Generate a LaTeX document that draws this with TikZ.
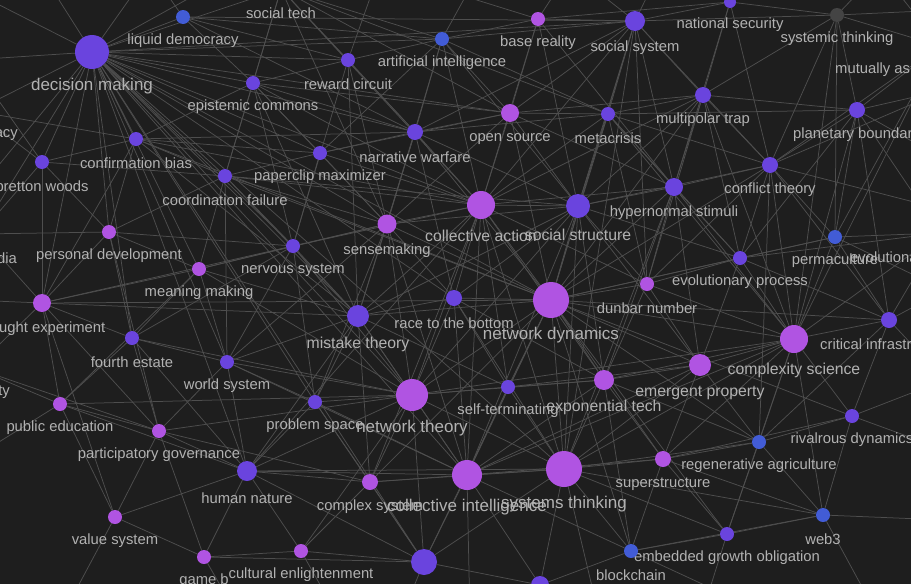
\documentclass[tikz,border=0pt]{standalone}
\usepackage{fontspec}
\setmainfont{Liberation Sans}
\usetikzlibrary{calc}
\definecolor{bgc}{RGB}{30,30,30}
\definecolor{cV}{RGB}{106,68,222}
\definecolor{cM}{RGB}{176,84,226}
\definecolor{cB}{RGB}{66,92,214}
\definecolor{cG}{RGB}{68,68,68}
\definecolor{edgec}{RGB}{78,78,78}
\definecolor{txtc}{RGB}{178,178,178}
\pgfdeclarelayer{bglayer}
\pgfdeclarelayer{edgelayer}
\pgfsetlayers{bglayer,edgelayer,main}
\tikzset{
  gnd/.style={circle,inner sep=0pt,draw=none},
  lbl/.style={text=txtc,inner sep=0pt,yshift=-2pt,font=\fontsize{14.8}{16}\selectfont},
  lblm/.style={text=txtc,inner sep=0pt,yshift=-2pt,font=\fontsize{15.8}{17}\selectfont},
  lblb/.style={text=txtc,inner sep=0pt,yshift=-2.5pt,font=\fontsize{17}{19}\selectfont},
  edge/.style={draw=edgec,line width=0.75pt}
}
\newcommand\GN[7]{%
  \node[gnd,fill=#5,minimum size=#4*2pt] (#1) at (#2,#3) {};
  \node[#7] (#1-l) at (#2,#3+#4+15) {#6};}
\begin{document}
\begin{tikzpicture}[x=1pt,y=-1pt]
\useasboundingbox (0,0) rectangle (911,584);
\begin{pgfonlayer}{bglayer}
\fill[bgc] (0,0) rectangle (911,584);
\end{pgfonlayer}
% nodes
\GN{dm}{92}{52}{17}{cV}{decision making}{lblb}
\GN{lqd}{183}{17}{7}{cB}{liquid democracy}{lbl}
\GN{stech}{281}{-11}{7}{cV}{social tech}{lbl}
\GN{rc}{348}{60}{7}{cV}{reward circuit}{lbl}
\GN{ai}{442}{39}{7}{cB}{artificial intelligence}{lbl}
\GN{br}{538}{19}{7}{cM}{base reality}{lbl}
\GN{ssys}{635}{21}{10}{cV}{social system}{lbl}
\GN{natsec}{730}{2}{6}{cV}{national security}{lbl}
\GN{syst}{837}{15}{7}{cG}{systemic thinking}{lbl}
\GN{ecm}{253}{83}{7}{cV}{epistemic commons}{lbl}
\GN{cb}{136}{139}{7}{cV}{confirmation bias}{lbl}
\GN{bw}{42}{162}{7}{cV}{bretton woods}{lbl}
\GN{pcm}{320}{153}{7}{cV}{paperclip maximizer}{lbl}
\GN{cf}{225}{176}{7}{cV}{coordination failure}{lbl}
\GN{nw}{415}{132}{8}{cV}{narrative warfare}{lbl}
\GN{os}{510}{113}{9}{cM}{open source}{lbl}
\GN{mc}{608}{114}{7}{cV}{metacrisis}{lbl}
\GN{mpt}{703}{95}{8}{cV}{multipolar trap}{lbl}
\node[gnd,fill=cV,minimum size=16pt] (pb) at (857,110) {};
\node[lbl,anchor=west] (pb-l) at (793,133) {planetary boundar};
\GN{ct}{770}{165}{8}{cV}{conflict theory}{lbl}
\GN{hs}{674}{187}{9}{cV}{hypernormal stimuli}{lbl}
\GN{sstr}{578}{206}{12}{cV}{social structure}{lblm}
\GN{ca}{481}{205}{14}{cM}{collective action}{lblm}
\GN{sm}{387}{224}{9.5}{cM}{sensemaking}{lbl}
\GN{ns}{293}{246}{7}{cV}{nervous system}{lbl}
\GN{pd}{109}{232}{7}{cM}{personal development}{lbl}
\GN{mm}{199}{269}{7}{cM}{meaning making}{lbl}
\GN{te}{42}{303}{9}{cM}{thought experiment}{lbl}
\GN{fe}{132}{338}{7}{cV}{fourth estate}{lbl}
\GN{ws}{227}{362}{7}{cV}{world system}{lbl}
\GN{rtb}{454}{298}{8}{cV}{race to the bottom}{lbl}
\GN{mt}{358}{316}{11}{cV}{mistake theory}{lblm}
\GN{nd}{551}{300}{18}{cM}{network dynamics}{lblb}
\GN{dn}{647}{284}{7}{cM}{dunbar number}{lbl}
\GN{ep}{740}{258}{7}{cV}{evolutionary process}{lbl}
\GN{perm}{835}{237}{7}{cB}{permaculture}{lbl}
\node[gnd,fill=cV,minimum size=16pt] (cinf) at (889,320) {};
\node[lbl,anchor=west] (cinf-l) at (820,342) {critical infrastr};
\GN{cs}{794}{339}{14}{cM}{complexity science}{lblm}
\GN{emp}{700}{365}{11}{cM}{emergent property}{lblm}
\GN{et}{604}{380}{10}{cM}{exponential tech}{lblm}
\GN{stm}{508}{387}{7}{cV}{self-terminating}{lbl}
\GN{nt}{412}{395}{16}{cM}{network theory}{lblb}
\GN{ps}{315}{402}{7}{cV}{problem space}{lbl}
\GN{pe}{60}{404}{7}{cM}{public education}{lbl}
\GN{pg}{159}{431}{7}{cM}{participatory governance}{lbl}
\GN{hn}{247}{471}{10}{cV}{human nature}{lbl}
\GN{vs}{115}{517}{7}{cM}{value system}{lbl}
\GN{gb}{204}{557}{7}{cM}{game b}{lbl}
\GN{ce}{301}{551}{7}{cM}{cultural enlightenment}{lbl}
\GN{cpx}{370}{482}{8}{cM}{complex system}{lbl}
\GN{cint}{467}{475}{15}{cM}{collective intelligence}{lblb}
\GN{sth}{564}{469}{18}{cM}{systems thinking}{lblb}
\GN{sup}{663}{459}{8}{cM}{superstructure}{lbl}
\GN{ra}{759}{442}{7}{cB}{regenerative agriculture}{lbl}
\GN{rd}{852}{416}{7}{cV}{rivalrous dynamics}{lbl}
\GN{web3}{823}{515}{7}{cB}{web3}{lbl}
\GN{ego}{727}{534}{7}{cV}{embedded growth obligation}{lbl}
\GN{bc}{631}{551}{7}{cB}{blockchain}{lbl}
\node[gnd,fill=cV,minimum size=26pt] (bigv) at (424,562) {};
\node[gnd,fill=cV,minimum size=18pt] (bv2) at (540,585) {};
% nodes outside the frame and their visible label parts
\node[gnd,fill=cV,minimum size=14pt] (demo) at (-25,111) {};
\node[lbl,anchor=east] (demo-l) at (18,133) {acy};
\node[gnd,fill=cV,minimum size=14pt] (media) at (-20,234) {};
\node[lbl,anchor=east] (media-l) at (17,256) {dia};
\node[gnd,fill=cV,minimum size=14pt] (tyn) at (-25,368) {};
\node[lbl,anchor=east] (tyn-l) at (10,390) {ty};
\node[gnd,fill=cV,minimum size=14pt] (evo) at (940,233) {};
\node[lbl,anchor=west] (evo-l) at (850,255) {evolutiona};
\node[gnd,fill=cV,minimum size=14pt] (mad) at (940,46) {};
\node[lbl,anchor=west] (mad-l) at (835,68) {mutually as};
% off-frame ends
\coordinate (otl) at (-30,-10);
\coordinate (ot1) at (40,-30);
\coordinate (ot2) at (150,-30);
\coordinate (ot3) at (240,-30);
\coordinate (ot4) at (380,-30);
\coordinate (ot5) at (480,-30);
\coordinate (ot6) at (570,-30);
\coordinate (ot7) at (660,-30);
\coordinate (ot8) at (780,-30);
\coordinate (ot9) at (880,-30);
\coordinate (ol1) at (-30,60);
\coordinate (ol2) at (-30,200);
\coordinate (ol3) at (-30,300);
\coordinate (ol4) at (-30,460);
\coordinate (or1) at (945,10);
\coordinate (or2) at (945,90);
\coordinate (or3) at (945,160);
\coordinate (or4) at (945,210);
\coordinate (or5) at (945,290);
\coordinate (or6) at (945,380);
\coordinate (or7) at (945,450);
\coordinate (or8) at (945,520);
\coordinate (ob1) at (60,620);
\coordinate (ob2) at (240,620);
\coordinate (ob3) at (340,620);
\coordinate (ob4) at (470,620);
\coordinate (ob5) at (600,620);
\coordinate (ob6) at (700,620);
\coordinate (ob7) at (780,620);
\coordinate (ob8) at (400,620);
\coordinate (ob9) at (880,620);
\begin{pgfonlayer}{edgelayer}
\foreach \a/\b in {
dm/lqd, dm/stech, dm/rc, dm/ai, dm/ecm, dm/cb, dm/bw, dm/cf, dm/pcm, dm/nw, dm/sm, dm/ns, dm/pd, dm/mm, dm/te, dm/fe, dm/ws, dm/mt, dm/rtb, dm/ca, dm/nt, dm/ps, dm/cint, dm/bigv, dm/os, dm/ssys, dm/demo, dm/media, dm/otl, dm/ot1, dm/ot2, dm/ot3, dm/ol1, dm/nd, dm/hn, dm/sth, dm/ol2,
lqd/ai, lqd/ecm, lqd/ssys, lqd/nw, lqd/ot2, lqd/rc,
stech/ecm, stech/rc, stech/ai, stech/os, stech/nw, stech/sm, stech/ca, stech/cf, stech/mc,
rc/ecm, rc/nw, rc/ns, rc/ai, rc/sm, rc/mt, rc/ot4,
ai/os, ai/br, ai/mc, ai/ca, ai/nw, ai/sstr, ai/ssys, ai/sm, ai/ot5,
br/os, br/ssys, br/ca, br/sstr, br/hs, br/ot6, br/natsec, br/ot4,
ssys/mc, ssys/mpt, ssys/sstr, ssys/hs, ssys/os, ssys/ca, ssys/nd, ssys/natsec, ssys/ot7, ssys/ot6, ssys/syst, ssys/ct, ssys/dn, ssys/sth, ssys/nw,
natsec/syst, natsec/mpt, natsec/hs, natsec/ot8, natsec/ct,
syst/pb, syst/mad, syst/ct, syst/or1, syst/ot9, syst/perm, syst/mpt, syst/cs,
mad/pb, mad/ct, mad/cs, mad/perm, mad/ot9,
ecm/cb, ecm/cf, ecm/pcm, ecm/nw, ecm/ns, ecm/ca, ecm/sm, ecm/os, ecm/mt,
cb/bw, cb/cf, cb/pd, cb/pcm, cb/nw, cb/ca, cb/te, cb/nd, cb/mt, cb/demo,
bw/demo, bw/pd, bw/te, bw/ol1, bw/media, bw/cf,
pcm/cf, pcm/nw, pcm/sm, pcm/ca, pcm/ns, pcm/os, pcm/ai,
cf/ns, cf/mm, cf/sm, cf/ca, cf/mt, cf/pd, cf/ws, cf/sstr, cf/nd,
nw/os, nw/sm, nw/ca, nw/sstr, nw/mc, nw/rtb, nw/mt, nw/nd,
os/mc, os/ca, os/sstr, os/nd, os/hs, os/sm, os/mpt,
mc/mpt, mc/sstr, mc/hs, mc/ca, mc/nd, mc/ct, mc/dn, mc/pb, mc/cs, mc/ep,
mpt/ct, mpt/hs, mpt/pb, mpt/sstr, mpt/nd, mpt/dn, mpt/cs, mpt/ep, mpt/ca,
pb/ct, pb/perm, pb/cinf, pb/cs, pb/ep, pb/or2, pb/or3, pb/evo,
ct/hs, ct/ep, ct/perm, ct/cs, ct/sstr, ct/dn, ct/nd, ct/ra, ct/or4, ct/cinf, ct/or2,
hs/sstr, hs/ca, hs/nd, hs/dn, hs/ep, hs/et, hs/emp, hs/cs, hs/sth,
sstr/ca, sstr/nd, sstr/dn, sstr/rtb, sstr/sm, sstr/et, sstr/emp, sstr/sth, sstr/cint, sstr/nt, sstr/ep, sstr/mt,
ca/sm, ca/nd, ca/rtb, ca/mt, ca/nt, ca/cint, ca/sth, ca/et, ca/dn, ca/stm, ca/cpx, ca/ns, ca/hn,
sm/ns, sm/mt, sm/rtb, sm/nd, sm/nt, sm/cint, sm/mm, sm/ps, sm/ws,
ns/mm, ns/mt, ns/ws, ns/nt, ns/pd, ns/te, ns/fe, ns/ps,
pd/mm, pd/te, pd/fe, pd/media, pd/pg,
mm/te, mm/fe, mm/ws, mm/mt, mm/nt, mm/pe,
te/fe, te/pe, te/media, te/tyn, te/vs, te/pg, te/nd, te/mt, te/ol3,
fe/ws, fe/pe, fe/pg, fe/hn, fe/nt,
ws/ps, ws/hn, ws/nt, ws/mt, ws/cint, ws/pg,
rtb/mt, rtb/nd, rtb/nt, rtb/stm, rtb/et, rtb/cint, rtb/sth,
mt/nt, mt/nd, mt/ps, mt/cpx, mt/cint, mt/hn, mt/stm,
nd/dn, nd/ep, nd/emp, nd/et, nd/stm, nd/nt, nd/cint, nd/sth, nd/cs, nd/sup, nd/ra, nd/cinf, nd/perm, nd/rd, nd/bc, nd/ego, nd/bigv, nd/cpx,
dn/ep, dn/emp, dn/et, dn/cs,
ep/perm, ep/cs, ep/emp, ep/cinf, ep/evo,
perm/evo, perm/cinf, perm/cs, perm/or5,
evo/cinf, evo/cs, evo/or4,
cinf/cs, cinf/rd, cinf/ra, cinf/or6, cinf/or5,
cs/emp, cs/et, cs/sth, cs/sup, cs/ra, cs/rd, cs/web3, cs/cint, cs/nt, cs/ego,
emp/et, emp/sth, emp/sup, emp/ra, emp/cint, emp/stm,
et/stm, et/sth, et/sup, et/cint, et/nt, et/ra, et/bc,
stm/nt, stm/cint, stm/sth,
nt/ps, nt/cpx, nt/cint, nt/sth, nt/hn, nt/bigv, nt/ce, nt/pg, nt/pe,
ps/cpx, ps/hn, ps/cint, ps/bigv,
pe/pg, pe/vs, pe/hn, pe/tyn, pe/ol4,
pg/hn, pg/vs, pg/gb, pg/cpx, pg/tyn,
hn/vs, hn/gb, hn/ce, hn/cpx, hn/bigv, hn/cint, hn/sth,
vs/gb, vs/ob1,
gb/ce, gb/bigv, gb/ob2,
ce/bigv, ce/cpx, ce/ob3,
cpx/cint, cpx/bigv, cpx/sth,
cint/sth, cint/bigv, cint/bv2, cint/sup, cint/bc, cint/ob4,
sth/sup, sth/ra, sth/web3, sth/ego, sth/bc, sth/bigv, sth/bv2, sth/ob5,
sup/ra, sup/ego, sup/bc, sup/web3, sup/rd,
ra/rd, ra/web3, ra/ego,
rd/web3, rd/or7, rd/or6,
web3/ego, web3/bc, web3/or8, web3/ob9,
ego/bc, ego/ob6,
bc/bv2, bc/ob7,
bigv/bv2, bigv/ob8}
  \draw[edge] (\a) -- (\b);
\end{pgfonlayer}
\end{tikzpicture}
\end{document}
